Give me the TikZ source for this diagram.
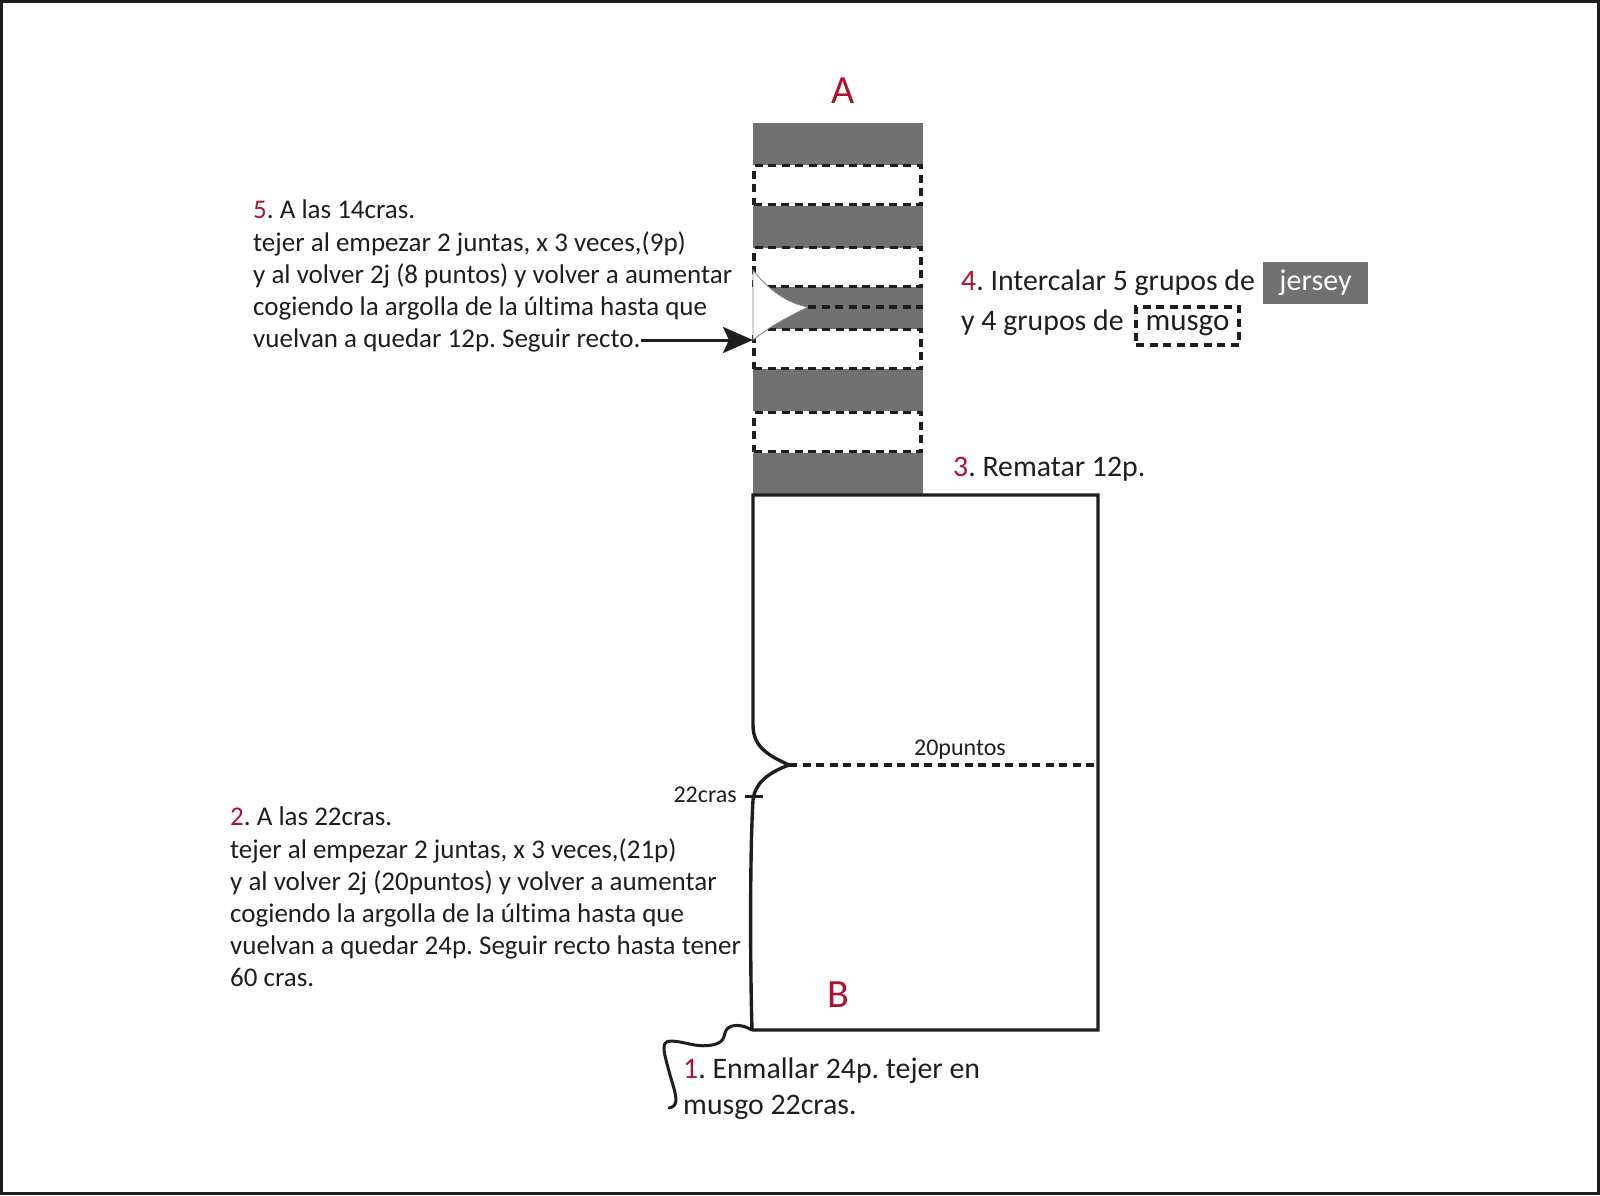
\documentclass[tikz,border=0pt]{standalone}
\usepackage{fontspec}
\setmainfont[Ligatures=NoCommon]{Carlito}
\usepackage{xcolor}
\usetikzlibrary{arrows.meta}
\definecolor{stepred}{HTML}{B0122E}
\definecolor{jerseygray}{HTML}{717171}
\definecolor{inkblack}{HTML}{1E1E1E}
\newcommand{\stepnum}[1]{\textcolor{stepred}{#1}}
\tikzset{
	dashline/.style={draw=inkblack,line width=3.2pt,dash pattern=on 8pt off 5.5pt},
	jerseyband/.style={fill=jerseygray,minimum width=170pt,minimum height=42pt,inner sep=0pt,outer sep=0pt},
	musgoband/.style={dashline,minimum width=167pt,minimum height=39pt,inner sep=0pt},
	notetext/.style={anchor=north west,align=left,inner sep=0pt,text=inkblack,font=\frenchspacing\fontsize{27}{32.2}\selectfont},
	bigtext/.style={anchor=north west,align=left,inner sep=0pt,text=inkblack,font=\frenchspacing\fontsize{29.8}{36}\selectfont},
	smalltext/.style={inner sep=0pt,text=inkblack,font=\fontsize{24}{26}\selectfont},
	endlabel/.style={inner sep=0pt,text=stepred,font=\fontsize{40}{44}\selectfont},
	outline/.style={draw=inkblack,line width=3.4pt}
}
\begin{document}
\begin{tikzpicture}[x=1pt,y=-1pt]
\useasboundingbox (0,0) rectangle (1600,1195);

% Frame
\draw[draw=inkblack,line width=3pt] (1.5,1.5) rectangle (1598.5,1193.5);

% Strip
\foreach \ypos/\name in {144/j1,226.5/j2,308/j3,390/j4,474/j5}
	\node[jerseyband] (\name) at (837.5,\ypos) {};
\foreach \ypos/\name in {185/m1,267/m2,349/m3,432/m4}
	\node[musgoband] (\name) at (837.5,\ypos) {};

% Opening in the strip
\coordinate (slitA) at (753,270);
\coordinate (slitB) at (753,340);
\coordinate (slitC) at (808,307);
\coordinate (slitD) at (922.5,307);
\fill[white,draw=gray,line width=0.8pt] (slitA) .. controls (765,286) and (785,303) .. (slitC)
	.. controls (790,316) and (770,326) .. (slitB) -- cycle;
\draw[dashline] (slitC) -- (slitD);

% Body
\coordinate (topL) at (753,495);
\coordinate (topR) at (1098,495);
\coordinate (botR) at (1098,1030);
\coordinate (botL) at (752,1030);
\coordinate (waist) at (789,765);
\coordinate (waistR) at (1098,765);
\draw[outline,line join=miter] (botL) -- (botR) -- (topR) -- (topL) -- (753,725)
	.. controls (753,748) and (770,756) .. (waist)
	.. controls (770,772) and (755,782) .. (753,800)
	.. controls (750,850) and (750,960) .. (botL);
\draw[dashline] (waist) -- (waistR);
\draw[draw=inkblack,line width=3pt] (745,796) -- (763,796);

% Loose thread
\draw[draw=inkblack,line width=3pt,line cap=round] (botL)
	.. controls (745,1026) and (735,1023) .. (728,1028)
	.. controls (722,1033) and (728,1042) .. (712,1045)
	.. controls (695,1048) and (685,1041) .. (670,1041)
	.. controls (660,1042) and (664,1052) .. (670,1075)
	.. controls (676,1095) and (680,1106) .. (669,1108);

% Labels
\node[endlabel] (labelA) at (843,91) {A};
\node[endlabel] (labelB) at (838,995) {B};
\node[smalltext] (puntos) at (960,750) {20puntos};
\node[smalltext,anchor=east] (cras) at (737,795) {22cras};

\node[notetext] (step5) at (253,200) {\stepnum{5}. A las 14cras.\\
tejer al empezar 2 juntas, x 3 veces,(9p)\\
y al volver 2j (8 puntos) y volver a aumentar\\
cogiendo la argolla de la última hasta que\\
vuelvan a quedar 12p. Seguir recto.};
\node[notetext] (step2) at (230,807) {\stepnum{2}. A las 22cras.\\
tejer al empezar 2 juntas, x 3 veces,(21p)\\
y al volver 2j (20puntos) y volver a aumentar\\
cogiendo la argolla de la última hasta que\\
vuelvan a quedar 24p. Seguir recto hasta tener\\
60 cras.};
\node[bigtext] (step3) at (953,457) {\stepnum{3}. Rematar 12p.};
\node[bigtext] (step4) at (961,270) {\stepnum{4}. Intercalar 5 grupos de\\[4pt]y 4 grupos de};
\node[bigtext] (step1) at (683,1058) {\stepnum{1}. Enmallar 24p. tejer en\\musgo 22cras.};

% Legend
\node[fill=jerseygray,minimum width=105pt,minimum height=42pt,inner sep=0pt,text=white,font=\fontsize{30}{32}\selectfont] (jersey) at (1315.5,283) {jersey};
\node[dashline,minimum width=103pt,minimum height=38pt,inner sep=0pt,text=inkblack,font=\fontsize{31}{32}\selectfont] (musgo) at (1187.5,326) {\raisebox{-2pt}{musgo}};

% Arrow
\coordinate (arrowstart) at (641,340);
\draw[draw=inkblack,line width=3pt,-{Stealth[length=30pt,width=26pt,inset=6pt]}] (arrowstart) -- (slitB);

\end{tikzpicture}
\end{document}
